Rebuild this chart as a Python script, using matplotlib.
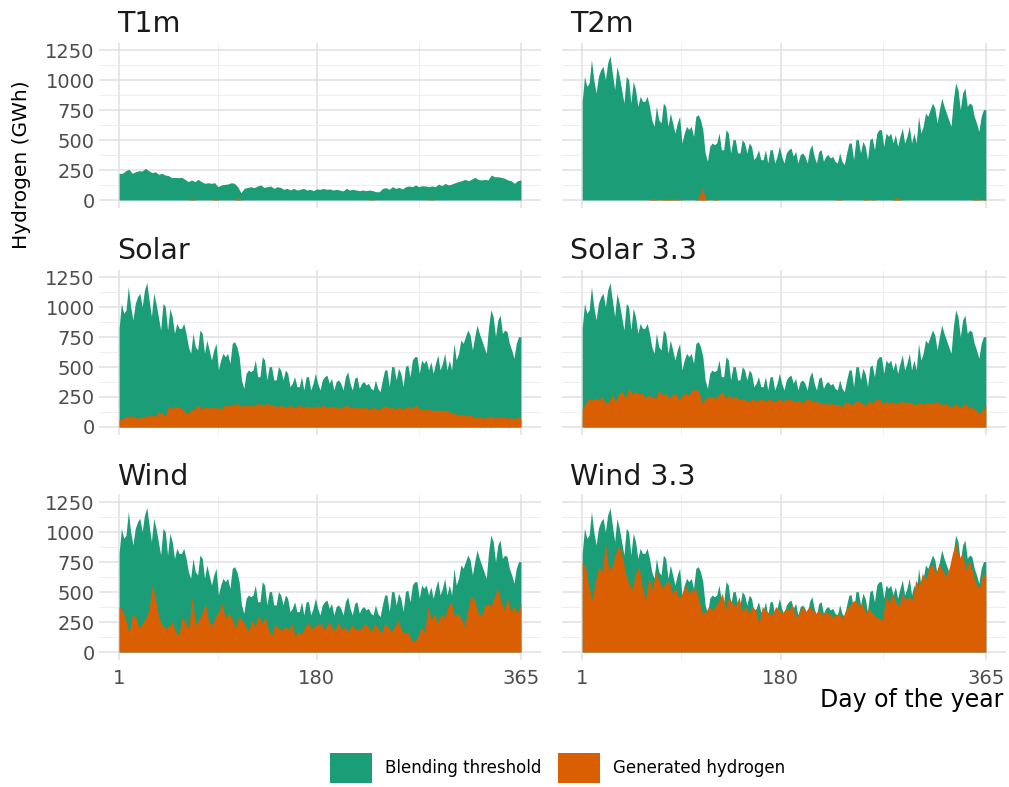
import numpy as np
import matplotlib
matplotlib.use("Agg")
import matplotlib.pyplot as plt
from matplotlib.patches import Patch

GREEN = "#1B9E77"
ORANGE = "#D95F02"

# blending threshold (GWh/day), every 2 days
threshold = [822, 1030, 947, 975, 1170, 1003, 892, 1030, 1086, 1114, 1003, 1142, 1203, 1058, 920,
             1114, 1030, 920, 808, 1030, 1003, 808, 989, 920, 780, 864, 822, 822, 864, 780, 669,
             614, 780, 669, 642, 808, 780, 614, 725, 642, 558, 642, 697, 475, 558, 614, 586, 614,
             530, 697, 711, 669, 586, 392, 322, 447, 475, 461, 475, 558, 419, 419, 586, 558, 392,
             503, 503, 392, 392, 503, 475, 392, 475, 447, 336, 364, 419, 336, 336, 419, 308, 419,
             419, 308, 364, 447, 364, 308, 392, 419, 433, 364, 405, 308, 378, 392, 364, 308, 419,
             461, 364, 308, 405, 419, 322, 364, 378, 350, 364, 322, 308, 392, 322, 294, 392, 475,
             475, 336, 503, 503, 392, 489, 447, 336, 503, 517, 419, 558, 586, 586, 447, 558, 530,
             558, 475, 544, 447, 530, 600, 475, 530, 614, 475, 558, 475, 697, 558, 614, 725, 697,
             753, 808, 767, 642, 753, 850, 780, 725, 669, 614, 836, 975, 920, 753, 892, 933, 780,
             808, 794, 697, 642, 572, 697, 753, 753]

# T1m has its own (smaller) threshold, every ~3 days
threshold_t1m = [222, 222, 244, 256, 222, 236, 244, 242, 264, 244, 228, 236, 214, 222, 208, 203,
                 186, 189, 186, 189, 172, 153, 167, 153, 172, 153, 139, 144, 139, 144, 111, 125,
                 130, 133, 144, 139, 111, 61, 97, 105, 111, 103, 117, 125, 105, 111, 117, 97, 111,
                 105, 89, 97, 83, 97, 83, 89, 97, 83, 89, 78, 92, 89, 97, 89, 92, 83, 89, 83, 75,
                 97, 83, 89, 83, 78, 83, 78, 83, 78, 69, 69, 97, 103, 89, 111, 97, 105, 92, 111,
                 117, 111, 125, 111, 119, 117, 111, 117, 111, 133, 119, 139, 125, 133, 144, 153,
                 161, 172, 161, 172, 189, 172, 167, 172, 167, 208, 194, 194, 189, 181, 167, 161,
                 139, 161, 167]

# generated hydrogen per scenario, every ~3 days
gen_t1m = [0] * 22 + [10, 0, 0, 0, 0, 0, 0, 8, 0, 0, 0, 0, 0, 0, 20, 0] + [0] * 38 + \
          [5] + [0] * 17 + [5] + [0] * 27

gen_t2m = [0] * 21 + [15, 8, 0, 5, 10, 5, 8, 12, 5, 0, 0, 0, 0, 0, 20, 100, 10, 0, 0, 10] + \
          [0] * 36 + [10] + [0] * 7 + [10, 0, 5] + [0] * 6 + [20, 12] + [0] * 22 + [15, 5, 0, 12]

gen_solar = [58, 70, 86, 90, 92, 80, 72, 86, 90, 92, 100, 86, 128, 114, 86, 169, 156, 175, 164,
             156, 128, 114, 142, 147, 183, 147, 169, 156, 169, 156, 164, 147, 183, 175, 183, 183,
             197, 169, 183, 175, 183, 175, 197, 189, 183, 197, 183, 183, 169, 183, 169, 164, 183,
             164, 169, 183, 164, 175, 169, 164, 175, 169, 183, 164, 169, 175, 164, 156, 169, 183,
             164, 169, 156, 164, 156, 164, 147, 164, 156, 147, 169, 175, 156, 164, 147, 169, 147,
             164, 169, 156, 183, 156, 147, 142, 147, 142, 136, 142, 136, 142, 128, 119, 114, 100,
             108, 100, 92, 100, 72, 86, 80, 72, 86, 92, 72, 86, 80, 86, 72, 80, 64, 86, 72]

gen_solar33 = [142, 197, 239, 225, 239, 225, 258, 197, 211, 267, 211, 281, 294, 239, 322, 281, 294,
               275, 281, 239, 267, 253, 239, 308, 267, 281, 239, 267, 281, 225, 267, 281, 267, 308,
               314, 294, 197, 239, 253, 253, 239, 267, 294, 239, 267, 239, 258, 225, 239, 225, 211,
               239, 217, 225, 239, 211, 239, 219, 211, 239, 219, 225, 239, 219, 211, 225, 203, 225,
               239, 211, 217, 203, 192, 197, 189, 197, 183, 192, 169, 211, 197, 183, 219, 211, 197,
               183, 219, 197, 225, 239, 197, 211, 203, 211, 197, 203, 219, 197, 211, 197, 183, 203,
               192, 197, 203, 197, 211, 203, 183, 197, 175, 169, 197, 164, 175, 197, 156, 169, 142,
               114, 142, 183]

gen_wind = [378, 350, 267, 156, 308, 294, 197, 239, 281, 350, 558, 433, 281, 225, 197, 211, 253,
            169, 142, 294, 239, 197, 461, 225, 267, 322, 406, 253, 225, 294, 336, 406, 281, 322,
            281, 197, 294, 267, 225, 169, 267, 211, 308, 239, 294, 183, 142, 239, 197, 183, 211,
            183, 239, 128, 169, 156, 211, 239, 197, 211, 239, 225, 183, 253, 211, 169, 253, 183,
            211, 169, 225, 197, 183, 197, 239, 211, 169, 239, 197, 156, 239, 211, 169, 211, 267,
            183, 156, 169, 100, 86, 128, 211, 156, 378, 267, 322, 239, 322, 281, 378, 419, 294,
            322, 281, 211, 350, 475, 433, 336, 294, 378, 406, 378, 461, 531, 419, 350, 447, 336,
            378, 322, 406]

gen_wind33 = [753, 711, 544, 433, 600, 711, 669, 908, 683, 711, 822, 892, 794, 656, 572, 517, 656,
              711, 544, 433, 628, 517, 669, 600, 531, 572, 600, 489, 531, 447, 489, 558, 489, 517,
              531, 433, 322, 336, 378, 350, 378, 433, 489, 350, 461, 406, 378, 461, 336, 378, 322,
              378, 350, 239, 378, 350, 322, 308, 378, 350, 322, 364, 350, 392, 294, 322, 378, 336,
              378, 350, 322, 350, 308, 336, 322, 294, 308, 322, 281, 350, 378, 419, 433, 378, 406,
              322, 364, 322, 294, 281, 267, 461, 406, 489, 419, 378, 489, 433, 461, 433, 600, 544,
              656, 600, 711, 725, 656, 739, 683, 628, 697, 822, 908, 780, 822, 683, 767, 669, 572,
              531, 642, 656]

panel_names = ["T1m", "T2m", "Solar", "Solar 3.3", "Wind", "Wind 3.3"]
panel_thresholds = [threshold_t1m, threshold, threshold, threshold, threshold, threshold]
panel_generated = [gen_t1m, gen_t2m, gen_solar, gen_solar33, gen_wind, gen_wind33]
legend_labels = ["Blending threshold", "Generated hydrogen"]

W, H = 1009, 787
fig = plt.figure(figsize=(W / 100, H / 100), dpi=100)

col_left = [99, 562]
col_right = [541, 1006]
row_bottom = [207.5, 434.5, 659.5]
panel_h = 165
title_y = [24, 251, 477]
title_x = [117, 570]

for i, name in enumerate(panel_names):
    r, c = divmod(i, 2)
    ax = fig.add_axes([col_left[c] / W, 1 - row_bottom[r] / H,
                       (col_right[c] - col_left[c]) / W, panel_h / H])
    thr = panel_thresholds[i]
    gen = panel_generated[i]
    ax.fill_between(np.linspace(1, 365, len(thr)), thr, color=GREEN, lw=0)
    ax.fill_between(np.linspace(1, 365, len(gen)), gen, color=ORANGE, lw=0)

    ax.set_xlim(1 - 18.2, 365 + 18.2)
    ax.set_ylim(-62.5, 1312.5)
    ax.set_xticks([1, 180, 365])
    ax.set_xticks([90.5, 272.5], minor=True)
    ax.set_yticks([0, 250, 500, 750, 1000, 1250])
    ax.set_yticks([125, 375, 625, 875, 1125], minor=True)
    ax.grid(which="major", color="#e0e0e0", lw=1.1)
    ax.grid(which="minor", color="#ebebeb", lw=0.6)
    ax.set_axisbelow(True)
    for s in ax.spines.values():
        s.set_visible(False)
    ax.tick_params(which="both", length=0, labelsize=14, labelcolor="#4d4d4d")
    ax.tick_params(axis="y", pad=3)
    ax.tick_params(axis="x", pad=7)
    if r < 2:
        ax.set_xticklabels([])
    if c == 1:
        ax.set_yticklabels([])

    fig.text(title_x[c] / W, 1 - title_y[r] / H, name, fontsize=20.5,
             ha="left", va="center", color="#1a1a1a")

fig.text(22 / W, 1 - 165 / H, "Hydrogen (GWh)", rotation=90, fontsize=14.5,
         ha="center", va="center")
fig.text(1003 / W, 1 - 700 / H, "Day of the year", fontsize=17, ha="right", va="center")

handles = [Patch(color=GREEN, lw=0), Patch(color=ORANGE, lw=0)]
fig.legend(handles, legend_labels, loc="center", bbox_to_anchor=(558 / W, 1 - 768 / H),
           ncol=2, frameon=False, fontsize=12, handlelength=2.5, handleheight=2.4,
           handletextpad=0.8, columnspacing=1.0)

fig.savefig("out.png", dpi=100)
